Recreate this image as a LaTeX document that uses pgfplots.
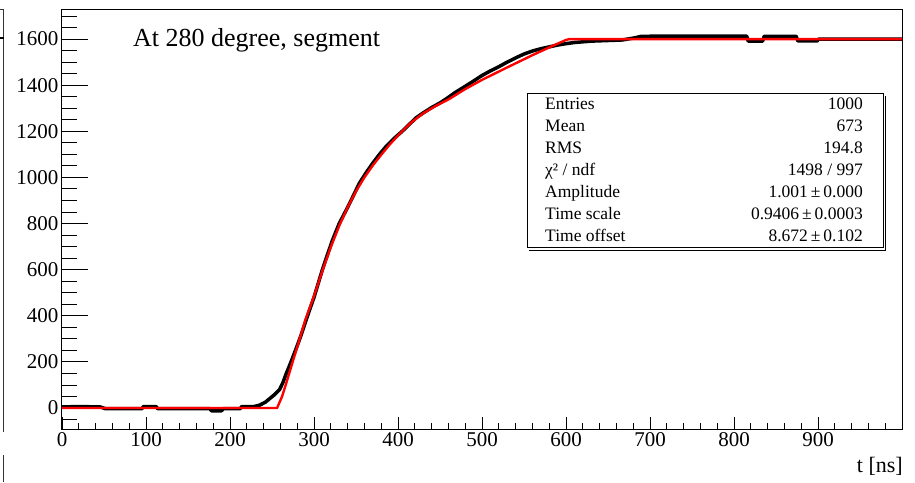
\documentclass[border=0pt]{standalone}
\usepackage{fontspec}
\setmainfont{Liberation Serif}
\usepackage{pgfplots}
\pgfplotsset{compat=1.18}
\begin{document}
\begin{tikzpicture}[x=1pt,y=1pt]
\useasboundingbox (0,0) rectangle (915,482);
\begin{axis}[
  at={(62pt,53pt)}, anchor=south west,
  scale only axis, width=840pt, height=419pt,
  xmin=0, xmax=1000, ymin=-91, ymax=1726,
  axis line style={line width=1pt},
  xtick={0,100,...,900}, ytick={0,200,...,1600},
  minor xtick={0,20,...,1000}, minor ytick={-50,0,...,1700},
  xtick pos=bottom, ytick pos=left, tick align=inside,
  xtick style={black, line width=0.9pt, /pgfplots/major tick length=12pt, /pgfplots/minor tick length=6pt},
  ytick style={black, line width=0.9pt, /pgfplots/major tick length=26pt, /pgfplots/minor tick length=15pt},
  tick label style={font=\fontsize{21}{21}\selectfont},
  /pgf/number format/assume math mode=true,
  /pgf/number format/set thousands separator={},
  clip=true,
]
\addplot[black, line width=3.5pt, line join=round] coordinates {
(0,5) (20,6) (45,5) (52,-3) (95,-3) (97,6) (112,6) (114,-3) (176,-3) (178,-12) (190,-12) (192,-3) (212,-3) (214,6) (228,6)
(235,12) (242,25) (247,40) (253,58) (259,80) (263,110) (267,150) (271,185) (275,222) (280,270) (285,320) (290,375) (295,428)
(300,480) (305,540) (310,600) (316,665) (322,728) (330,800) (340,870) (347,922) (354,975) (362,1020) (370,1062) (378,1100)
(386,1135) (395,1168) (405,1200) (414,1232) (422,1260) (431,1282) (440,1303) (450,1323) (458,1342) (468,1368) (480,1395)
(490,1418) (500,1442) (510,1462) (520,1480) (530,1500) (541,1520) (550,1535) (560,1548) (570,1558) (580,1566) (590,1574)
(600,1580) (610,1585) (620,1588) (630,1591) (645,1593) (667,1596) (680,1604) (690,1612) (750,1613) (815,1613) (817,1591)
(834,1591) (836,1612) (874,1612) (876,1592) (899,1592) (901,1600) (1000,1600)
};
\addplot[red, line width=2.4pt, line join=round] coordinates {
(0,0) (256,0) (262,50) (267,108) (275,205) (283,300) (290,385) (300,485) (310,595) (320,698) (330,790) (340,870)
(350,940) (360,1000) (370,1052) (380,1098) (390,1142) (400,1182) (415,1236) (430,1278) (445,1310) (461,1340)
(480,1383) (500,1423) (530,1477) (560,1530) (585,1572) (600,1596) (604,1600) (1000,1600)
};
\end{axis}
% title
\node[anchor=base west, inner sep=0pt, font=\fontsize{26}{26}\selectfont] at (133,435) {At 280 degree, segment};
% x label
\node[anchor=base east, inner sep=0pt, font=\fontsize{22}{22}\selectfont] at (903,10) {t [ns]};
% stats box
\fill[white] (527,234) rectangle (883,388);
\draw[line width=1pt] (527,234) rectangle (883,388);
\draw[line width=1pt] (529,231.5) -- (885.5,231.5) -- (885.5,386);
\begin{scope}[every node/.style={inner sep=0pt, font=\fontsize{17.5}{17.5}\selectfont}]
\foreach \l/\v [count=\i from 0] in {Entries/1000, Mean/673, RMS/194.8, {χ² / ndf}/{1498 / 997}, Amplitude/{1.001\,±\,0.000}, Time scale/{0.9406\,±\,0.0003}, Time offset/{8.672\,±\,0.102}}{
  \node[anchor=mid west] at (545, 375-22*\i) {\l};
  \node[anchor=mid east] at (863, 375-22*\i) {\v};
}
\end{scope}
% neighbouring panel edge
\draw[line width=1pt, black!80] (0,472) -- (3,472) -- (3,50);
\draw[line width=2pt, black] (0,444) -- (4,444);
\draw[line width=1pt, black!80] (3,27) -- (3,0);
\end{tikzpicture}
\end{document}
